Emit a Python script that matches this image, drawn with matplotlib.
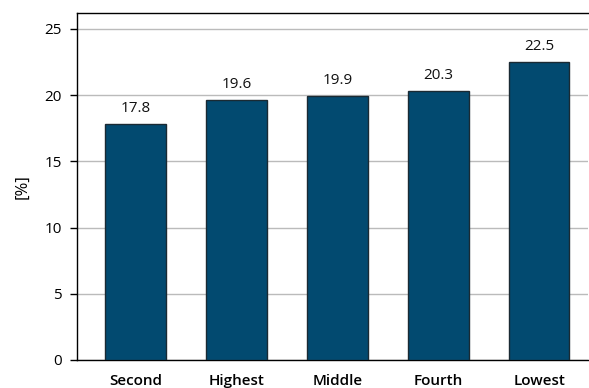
import matplotlib.pyplot as plt

plt.rcParams["font.family"] = ["Open Sans", "DejaVu Sans"]

categories = ["Second", "Highest", "Middle", "Fourth", "Lowest"]
values = [17.8, 19.6, 19.9, 20.3, 22.5]
yticks = [0, 5, 10, 15, 20, 25]

fig = plt.figure(figsize=(5.89, 3.88), dpi=100)
ax = fig.add_axes([0.1307, 0.0722, 0.867, 0.8943])

x = range(len(categories))
ax.bar(x, values, width=0.6, color="#024a70", edgecolor="#1a2a33", linewidth=1, zorder=3)
for xi, v in zip(x, values):
    ax.text(xi, v + 0.6, f"{v:.1f}", ha="center", va="bottom", fontsize=11, color="#111111")

ax.set_xlim(-0.58, 4.48)
ax.set_ylim(0, 26.2)
ax.set_yticks(yticks)
ax.set_xticks(list(x))
ax.set_xticklabels(categories, fontsize=11, fontweight="semibold")
ax.tick_params(axis="x", length=0, pad=10)
ax.tick_params(axis="y", length=5, width=1, labelsize=11, pad=6)
ax.yaxis.grid(True, color="#bbbbbb", linewidth=1, zorder=0)
ax.set_ylabel("[%]", fontsize=12, labelpad=10)

for side in ["top", "left", "bottom"]:
    ax.spines[side].set_color("black")
    ax.spines[side].set_linewidth(1)
ax.spines["right"].set_visible(False)

fig.savefig("out.png", dpi=100)
